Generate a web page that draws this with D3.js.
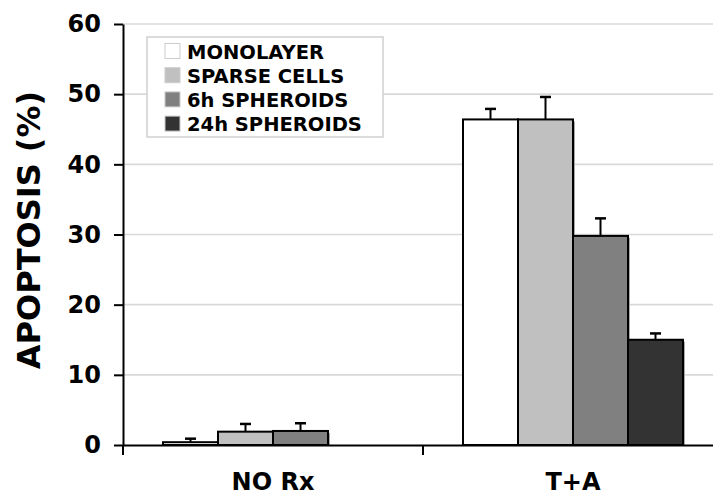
<!DOCTYPE html>
<html>
<head>
<meta charset="utf-8">
<script src="https://cdn.jsdelivr.net/npm/d3@7"></script>
<style>
  html, body { margin: 0; padding: 0; background: #fff; }
  svg { display: block; font-family: "DejaVu Sans", Verdana, sans-serif; font-weight: bold; }
</style>
</head>
<body>
<svg id="chart" width="713" height="495"></svg>
<script>
// Apoptosis (%) by treatment and culture condition
const categories = ["NO Rx", "T+A"];
const seriesNames = ["MONOLAYER", "SPARSE CELLS", "6h SPHEROIDS", "24h SPHEROIDS"];
const seriesColors = ["#ffffff", "#c0c0c0", "#808080", "#333333"];
const monolayer = [0.4, 46.4];
const sparseCells = [1.9, 46.4];
const spheroids6h = [2.0, 29.8];
const spheroids24h = [0, 15.0];
const monolayerErr = [0.5, 1.5];
const sparseCellsErr = [1.1, 3.2];
const spheroids6hErr = [1.1, 2.5];
const spheroids24hErr = [0, 0.9];
const yTicks = [0, 10, 20, 30, 40, 50, 60];

const values = [monolayer, sparseCells, spheroids6h, spheroids24h];
const errors = [monolayerErr, sparseCellsErr, spheroids6hErr, spheroids24hErr];

const svg = d3.select("#chart");
const plotLeft = 123, plotRight = 723, plotTop = 24, plotBottom = 445;

const x0 = d3.scaleBand().domain(categories).range([plotLeft, plotRight]).paddingInner(0).paddingOuter(0);
const x1 = d3.scaleBand().domain(seriesNames).range([40, x0.bandwidth() - 40]).padding(0);
const y = d3.scaleLinear().domain([0, 60]).range([plotBottom, plotTop]);

// gridlines
svg.append("g").selectAll("line").data(yTicks.filter(t => t > 0)).join("line")
  .attr("x1", plotLeft).attr("x2", 713)
  .attr("y1", d => y(d)).attr("y2", d => y(d))
  .attr("stroke", "#d9d9d9").attr("stroke-width", 1.6);

// bars
const rows = [];
categories.forEach((c, ci) => seriesNames.forEach((s, si) => {
  rows.push({ c, s, si, v: values[si][ci], e: errors[si][ci] });
}));
const bars = rows.filter(d => d.v > 0);

const g = svg.append("g");
// soft shadow on the right of each bar
g.selectAll("rect.shadow").data(bars).join("rect")
  .attr("class", "shadow")
  .attr("x", d => x0(d.c) + x1(d.s) + 2)
  .attr("y", d => y(d.v) + 2)
  .attr("width", x1.bandwidth())
  .attr("height", d => Math.max(0, y(0) - y(d.v) - 2))
  .attr("fill", "#aaa");
g.selectAll("rect.bar").data(bars).join("rect")
  .attr("class", "bar")
  .attr("x", d => x0(d.c) + x1(d.s))
  .attr("y", d => y(d.v))
  .attr("width", x1.bandwidth())
  .attr("height", d => y(0) - y(d.v))
  .attr("fill", d => seriesColors[d.si])
  .attr("stroke", "#000").attr("stroke-width", 2);

// error bars (upper only)
const eb = bars.filter(d => d.e > 0);
const cx = d => x0(d.c) + x1(d.s) + x1.bandwidth() / 2;
g.selectAll("line.err").data(eb).join("line")
  .attr("class", "err")
  .attr("x1", cx).attr("x2", cx)
  .attr("y1", d => y(d.v)).attr("y2", d => y(d.v + d.e))
  .attr("stroke", "#000").attr("stroke-width", 2);
g.selectAll("line.cap").data(eb).join("line")
  .attr("class", "cap")
  .attr("x1", d => cx(d) - 5.5).attr("x2", d => cx(d) + 5.5)
  .attr("y1", d => y(d.v + d.e)).attr("y2", d => y(d.v + d.e))
  .attr("stroke", "#000").attr("stroke-width", 2.5);

// y axis
const yAxis = svg.append("g").attr("transform", `translate(${plotLeft},0)`)
  .call(d3.axisLeft(y).tickValues(yTicks).tickSize(9).tickSizeOuter(0).tickPadding(13));
yAxis.select(".domain").attr("stroke", "#000").attr("stroke-width", 2);
yAxis.selectAll(".tick line").attr("stroke", "#000").attr("stroke-width", 2);
yAxis.selectAll(".tick text")
  .attr("font-family", "DejaVu Sans, sans-serif").attr("font-weight", "bold")
  .attr("font-size", 24).attr("fill", "#000");

// x axis
const xAxis = svg.append("g").attr("transform", `translate(0,${plotBottom})`)
  .call(d3.axisBottom(x0).tickSize(0).tickSizeOuter(0));
xAxis.select(".domain").attr("stroke", "#000").attr("stroke-width", 2);
xAxis.selectAll(".tick text")
  .attr("font-family", "DejaVu Sans, sans-serif").attr("font-weight", "bold")
  .attr("font-size", 24).attr("fill", "#000")
  .attr("dy", null).attr("y", 45);
// category separator ticks
svg.append("g").selectAll("line").data(categories.map(c => x0(c))).join("line")
  .attr("x1", d => d).attr("x2", d => d)
  .attr("y1", plotBottom).attr("y2", plotBottom + 10)
  .attr("stroke", "#000").attr("stroke-width", 2);

// y title
svg.append("text")
  .attr("transform", "translate(40,230) rotate(-90)")
  .attr("text-anchor", "middle")
  .attr("font-size", 32).attr("fill", "#000")
  .text("APOPTOSIS (%)");

// legend
const lg = svg.append("g");
lg.append("rect").attr("x", 147).attr("y", 37).attr("width", 236).attr("height", 100)
  .attr("fill", "#fff").attr("stroke", "#d0d0d0").attr("stroke-width", 1.5);
seriesNames.forEach((s, i) => {
  const cy = 51 + i * 24.2;
  lg.append("rect").attr("x", 165).attr("y", cy - 7.5).attr("width", 15).attr("height", 15)
    .attr("fill", seriesColors[i]).attr("stroke", "#ccc").attr("stroke-width", 1);
  lg.append("text").attr("x", 187).attr("y", cy + 7.5)
    .attr("font-size", 19.5).attr("fill", "#000").text(s);
});
</script>
</body>
</html>
